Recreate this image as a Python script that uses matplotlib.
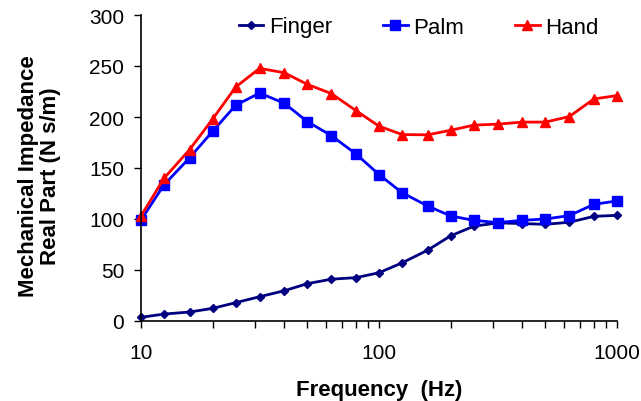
import matplotlib
matplotlib.use("Agg")
import matplotlib.pyplot as plt
from matplotlib.ticker import NullFormatter, LogLocator

plt.rcParams['font.family'] = ['Liberation Sans', 'DejaVu Sans']

freq = [10, 12.5, 16, 20, 25, 31.5, 40, 50, 63, 80, 100, 125, 160, 200, 250, 315, 400, 500, 630, 800, 1000]
finger = [3.6, 6.8, 8.8, 12.4, 18, 23.8, 29.7, 36.6, 41, 42.5, 47.3, 57, 69.4, 83.5, 92.9, 96.2, 95.5, 94.8, 96.8, 102.6, 103.6]
palm = [99, 133.6, 160, 186, 211.5, 223.5, 213.5, 195.5, 181.8, 163.8, 143.6, 125.8, 112.8, 103, 98.7, 96.5, 98.7, 100, 103.3, 114.4, 117.7]
hand = [103, 140, 168, 198, 229.4, 247.7, 243.4, 232, 223, 206.3, 191, 182.8, 182.5, 187, 192, 193, 195, 195, 200.4, 217.7, 221]
xtick_vals = [10, 100, 1000]
xtick_labels = ['10', '100', '1000']
ytick_vals = [0, 50, 100, 150, 200, 250, 300]

W, H = 641, 402
fig = plt.figure(figsize=(W / 100, H / 100), dpi=100)
ax = fig.add_axes([141 / W, 1 - 322 / H, (617 - 141) / W, (322 - 16) / H])

ax.plot(freq, finger, color='#000080', marker='D', markersize=4.5, lw=2, label='Finger', clip_on=False)
ax.plot(freq, palm, color='#0000FF', marker='s', markersize=6.5, lw=2, label='Palm', clip_on=False)
ax.plot(freq, hand, color='#FF0000', marker='^', markersize=6.5, lw=2, label='Hand', clip_on=False)

ax.set_xscale('log')
ax.set_xlim(10, 1000)
ax.set_ylim(0, 300)
ax.set_yticks(ytick_vals)
ax.set_xticks(xtick_vals)
ax.set_xticklabels(xtick_labels)
ax.xaxis.set_minor_locator(LogLocator(base=10, subs=range(2, 10)))
ax.xaxis.set_minor_formatter(NullFormatter())
ax.tick_params(axis='x', which='both', direction='out', length=5, width=1, labelsize=15, pad=11)
ax.tick_params(axis='y', direction='out', length=5, width=1, labelsize=15, pad=7)
for s in ['top', 'right']:
    ax.spines[s].set_visible(False)
for s in ['left', 'bottom']:
    ax.spines[s].set_linewidth(1.2)

ax.set_xlabel('Frequency  (Hz)', fontsize=16, fontweight='bold', labelpad=12)
ax.set_ylabel('Mechanical Impedance\nReal Part (N s/m)', fontsize=16, fontweight='bold',
              linespacing=1.05)
ax.yaxis.set_label_coords((61 - 141) / 476, (322 - 176) / 306)

ax.legend(loc='center left', bbox_to_anchor=(239 / W, 1 - 28 / H), bbox_transform=fig.transFigure,
          ncol=3, frameon=False, fontsize=16, handlelength=1.1, columnspacing=2.3,
          handletextpad=0.25, borderpad=0, borderaxespad=0)

fig.savefig('out.png', dpi=100)
